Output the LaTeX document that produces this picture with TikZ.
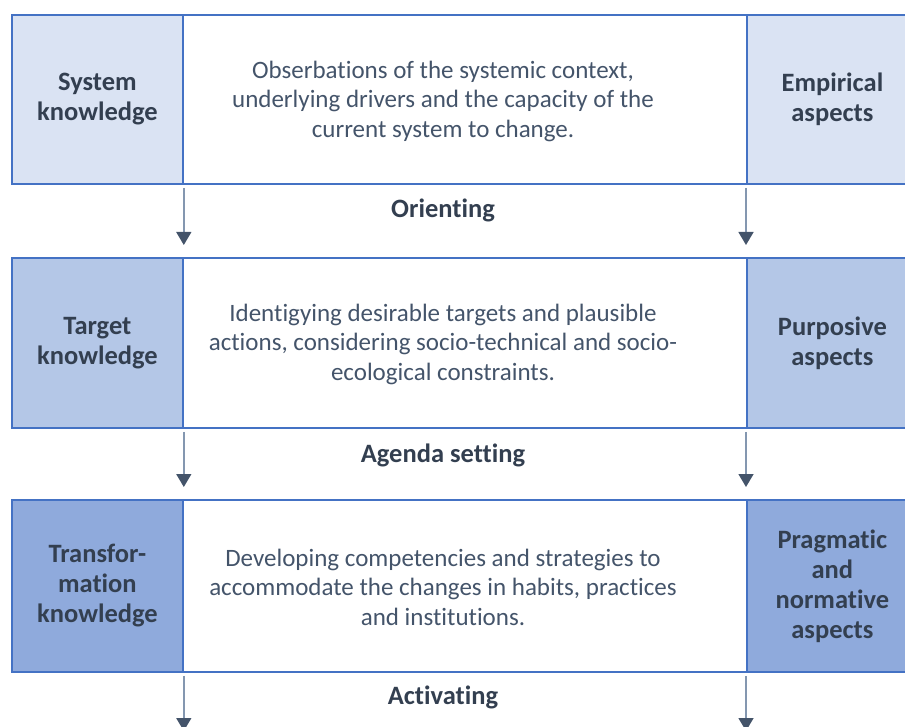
\documentclass[tikz,border=0pt]{standalone}
\usepackage{fontspec}
\setmainfont{Carlito}[Ligatures=NoCommon]
\usetikzlibrary{arrows.meta,positioning}
\definecolor{frameblue}{HTML}{4472C4}
\definecolor{fillA}{HTML}{DAE3F3}
\definecolor{fillB}{HTML}{B4C7E7}
\definecolor{fillC}{HTML}{8FAADC}
\definecolor{inkdark}{HTML}{333F50}
\definecolor{inkgray}{HTML}{44546A}
\definecolor{linegray}{HTML}{8497B0}

\begin{document}
\begin{tikzpicture}[x=1pt, y=-1pt,
	every node/.style={inner sep=0pt, align=center, text=inkdark},
	box/.style={rectangle, draw=frameblue, line width=1.8pt, anchor=north west},
	side/.style={box, minimum width=171pt, font=\fontsize{26.5}{30}\selectfont\bfseries},
	mid/.style={box, minimum width=564pt},
	txt/.style={text=inkgray, font=\fontsize{25}{29.5}\selectfont},
	stage/.style={font=\fontsize{26.5}{30}\selectfont\bfseries},
	flow/.style={draw=linegray, line width=1.5pt, shorten <=3pt, shorten >=12pt,
		-{Triangle[width=15pt,length=13pt,color=inkgray]}}]
	\clip (0,0) rectangle (905,727);
	% row 1
	\node[side, fill=fillA, minimum height=169pt] (k1) at (11,14) {System\\knowledge};
	\node[mid, minimum height=169pt] (m1) at (182,14) {};
	\node[side, fill=fillA, minimum height=169pt] (a1) at (746,14) {Empirical\\aspects};
	\node[txt] (t1) at (443,101) {Obserbations of the systemic context,\\underlying drivers and the capacity of the\\current system to change.};
	% row 2
	\node[side, fill=fillB, minimum height=170pt] (k2) at (11,257) {Target\\knowledge};
	\node[mid, minimum height=170pt] (m2) at (182,257) {};
	\node[side, fill=fillB, minimum height=170pt] (a2) at (746,257) {Purposive\\aspects};
	\node[txt] (t2) at (443,344) {Identigying desirable targets and plausible\\actions, considering socio-technical and socio-\\ecological constraints.};
	% row 3
	\node[side, fill=fillC, minimum height=172pt] (k3) at (11,499) {Transfor-\\mation\\knowledge};
	\node[mid, minimum height=172pt] (m3) at (182,499) {};
	\node[side, fill=fillC, minimum height=172pt] (a3) at (746,499) {Pragmatic\\and\\normative\\aspects};
	\node[txt] (t3) at (443,587) {Developing competencies and strategies to\\accommodate the changes in habits, practices\\and institutions.};
	\coordinate (bottom) at (0,743);
	% stages
	\node[stage] (s1) at (443,210) {Orienting};
	\node[stage] (s2) at (443,455) {Agenda setting};
	\node[stage] (s3) at (443,697) {Activating};
	% arrows
	\draw[flow] (k1.south east) -- (k1.south east |- k2.north);
	\draw[flow] (a1.south west) -- (a1.south west |- a2.north);
	\draw[flow] (k2.south east) -- (k2.south east |- k3.north);
	\draw[flow] (a2.south west) -- (a2.south west |- a3.north);
	\draw[flow] (k3.south east) -- (k3.south east |- bottom);
	\draw[flow] (a3.south west) -- (a3.south west |- bottom);
\end{tikzpicture}
\end{document}
